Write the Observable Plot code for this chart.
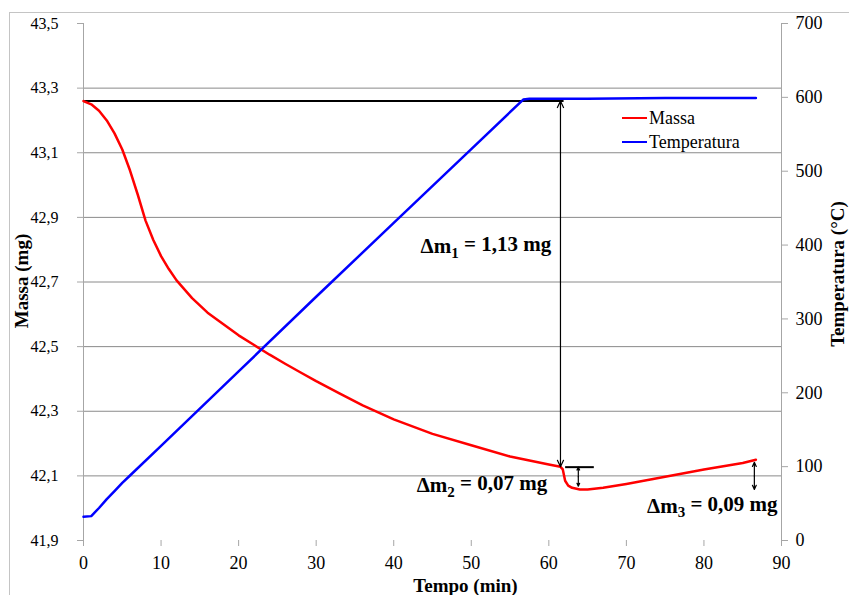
<!DOCTYPE html>
<html>
<head>
<meta charset="utf-8">
<script src="https://cdn.jsdelivr.net/npm/d3@7"></script>
<script src="https://cdn.jsdelivr.net/npm/@observablehq/plot@0.6"></script>
<style>
  html, body { margin: 0; padding: 0; background: #fff; }
  #wrap { position: relative; width: 849px; height: 595px; overflow: hidden; font-family: "Liberation Serif", "Times New Roman", Times, serif; }
  #wrap svg, #wrap svg text { font-family: "Liberation Serif", "Times New Roman", Times, serif !important; }
  #frame { position: absolute; left: 9px; top: 12px; width: 860px; height: 600px; border-left: 1px solid #c4c4c4; border-top: 1px solid #c4c4c4; pointer-events: none; }
  #legend { position: absolute; left: 622px; top: 106px; font-size: 18px; line-height: 24px; color: #000; }
  #legend .row { display: flex; align-items: center; }
  #legend .sw { width: 25px; height: 2.5px; margin-right: 2px; }
</style>
</head>
<body>
<div id="wrap">
  <div id="chart"></div>
  <div id="frame"></div>
  <div id="legend"></div>
</div>
<script>
// ---- data ----
const massTime  = [0, 1, 2, 3, 4, 5, 6, 7, 8, 9, 10, 11, 12, 14, 16, 18, 20, 22, 24, 26, 28, 30, 33, 36, 40, 45, 50, 55, 60, 61.5, 61.8, 62.1, 62.5, 63, 64, 65, 67, 70, 75, 80, 85, 86.7];
const massValue = [43.26, 43.25, 43.23, 43.20, 43.16, 43.11, 43.045, 42.97, 42.89, 42.83, 42.78, 42.74, 42.705, 42.65, 42.605, 42.57, 42.535, 42.505, 42.475, 42.447, 42.42, 42.393, 42.355, 42.318, 42.275, 42.23, 42.195, 42.16, 42.135, 42.128, 42.12, 42.085, 42.07, 42.063, 42.058, 42.058, 42.063, 42.075, 42.097, 42.12, 42.14, 42.15];

const tempTime  = [0, 1, 2, 3, 4, 5, 6, 10, 20, 30, 40, 50, 56.7, 57.5, 65, 75, 86.7];
const tempValue = [32, 33, 44, 56, 67, 78, 88, 128, 229, 330, 430, 530, 597, 598, 598, 599, 599];

const xTicks    = [0, 10, 20, 30, 40, 50, 60, 70, 80, 90];
const massTicks = [41.9, 42.1, 42.3, 42.5, 42.7, 42.9, 43.1, 43.3, 43.5];
const tempTicks = [0, 100, 200, 300, 400, 500, 600, 700];

const seriesNames  = ["Massa", "Temperatura"];
const seriesColors = ["#ff0000", "#0000ff"];

// annotations (data units)
const refLine   = [{t1: 0, t2: 61.9, m: 43.26}, {t1: 62.1, t2: 65.8, m: 42.127}];
const arrows    = [{t: 61.5, m1: 43.26, m2: 42.128}, {t: 63.8, m1: 42.127, m2: 42.068}, {t: 86.5, m1: 42.142, m2: 42.058}];
const dmLabels  = [
  {t: 60.3, m: 42.81, main: "Δm", sub: "1", rest: " = 1,13 mg"},
  {t: 59.8, m: 42.07, main: "Δm", sub: "2", rest: " = 0,07 mg"},
  {t: 89.5, m: 42.006, main: "Δm", sub: "3", rest: " = 0,09 mg"}
];

// ---- helpers ----
const mMin = 41.9, mMax = 43.5, tMax = 700;
const tempToMass = T => mMin + T * (mMax - mMin) / tMax;
const massToTemp = m => Math.round((m - mMin) * tMax / (mMax - mMin));

const massData = massTime.map((t, i) => ({t, m: massValue[i]}));
const tempData = tempTime.map((t, i) => ({t, m: tempToMass(tempValue[i])}));
// double-headed arrows drawn as two arrows from the midpoint outwards
const arrowHalves = arrows.flatMap(a => {
  const mid = (a.m1 + a.m2) / 2;
  return [{t: a.t, from: mid, to: a.m1}, {t: a.t, from: mid, to: a.m2}];
});

const grid = "#8a8a8a", axisGray = "#a6a6a6";
const serif = "'Liberation Serif', 'Times New Roman', Times, serif";

const chart = Plot.plot({
  width: 849, height: 595,
  marginLeft: 83, marginRight: 68, marginTop: 23, marginBottom: 55,
  x: {domain: [0, 90]},
  y: {domain: [mMin, mMax]},
  style: {fontFamily: serif, fontSize: "16px", background: "transparent", color: "#000", overflow: "visible"},
  marks: [
    Plot.ruleY(massTicks.slice(1, -1), {stroke: grid, strokeWidth: 1}),
    Plot.ruleX([0, 90], {y1: mMin, y2: mMax, stroke: axisGray, strokeWidth: 1}),
    Plot.axisX({ticks: xTicks, tickSize: 6, tickPadding: 10, stroke: axisGray, fill: "#000", fontSize: 18, label: null, tickFormat: d => String(d)}),
    Plot.axisY({ticks: massTicks, anchor: "left", tickSize: 6, tickPadding: 19, stroke: axisGray, fill: "#000", fontSize: 16, label: null, tickFormat: d => d.toFixed(1).replace(".", ",")}),
    Plot.axisY(tempTicks.map(tempToMass), {anchor: "right", tickSize: 6, tickPadding: 8, stroke: axisGray, fill: "#000", fontSize: 18, label: null, tickFormat: massToTemp}),
    Plot.link(refLine, {x1: "t1", x2: "t2", y1: "m", y2: "m", stroke: "#000", strokeWidth: 2}),
    Plot.line(massData, {x: "t", y: "m", stroke: seriesColors[0], strokeWidth: 2.5}),
    Plot.line(tempData, {x: "t", y: "m", stroke: seriesColors[1], strokeWidth: 2.5}),
    Plot.arrow(arrowHalves, {x1: "t", x2: "t", y1: "from", y2: "to", stroke: "#000", strokeWidth: 1.2, headLength: 9, headAngle: 50}),
    Plot.text(dmLabels, {x: "t", y: "m", text: d => d.main + d.sub + d.rest, textAnchor: "end", fontWeight: "bold", fontSize: 21, fill: "#000"}),
    Plot.text(["Massa (mg)"], {frameAnchor: "left", dx: -62, dy: -1, rotate: -90, textAnchor: "middle", lineAnchor: "middle", fontWeight: "bold", fontSize: 19, fill: "#000"}),
    Plot.text(["Temperatura (°C)"], {frameAnchor: "right", dx: 56, dy: -8, rotate: -90, textAnchor: "middle", lineAnchor: "middle", fontWeight: "bold", fontSize: 19, fill: "#000"}),
    Plot.text(["Tempo (min)"], {frameAnchor: "bottom", dx: 33, dy: 45, textAnchor: "middle", lineAnchor: "middle", fontWeight: "bold", fontSize: 19, fill: "#000"})
  ]
});
document.getElementById("chart").appendChild(chart);

// subscripts for Δm labels
d3.select(chart).selectAll("text").each(function() {
  const el = d3.select(this);
  const txt = el.text();
  const lab = dmLabels.find(d => txt === d.main + d.sub + d.rest);
  if (!lab) return;
  el.text(null);
  el.append("tspan").text(lab.main);
  el.append("tspan").attr("font-size", 15).attr("dy", "0.3em").text(lab.sub);
  el.append("tspan").attr("dy", "-0.3em").text(lab.rest);
});

// legend
const legend = d3.select("#legend");
seriesNames.forEach((name, i) => {
  const row = legend.append("div").attr("class", "row");
  row.append("div").attr("class", "sw").style("background", seriesColors[i]);
  row.append("span").text(name);
});
</script>
</body>
</html>
